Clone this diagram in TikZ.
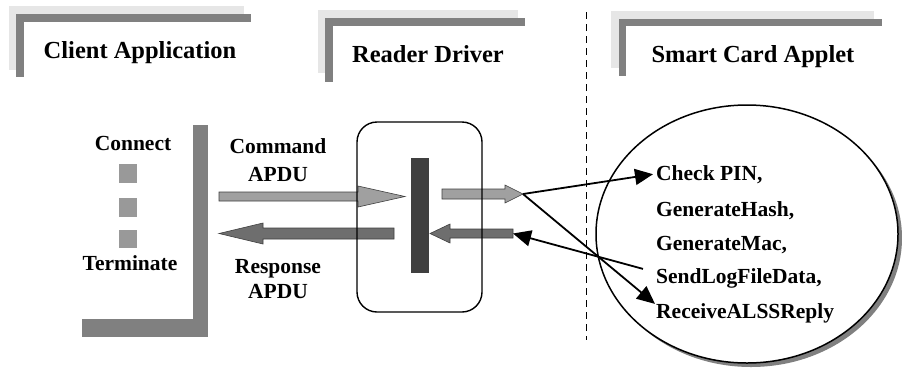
\documentclass[tikz,border=0pt]{standalone}
\usepackage{fontspec}
\setmainfont{Liberation Serif}[BoldFont={Liberation Serif Bold}]
\usetikzlibrary{arrows.meta}
\definecolor{hdrlight}{HTML}{E6E6E6}
\definecolor{hdrdark}{HTML}{808080}
\definecolor{cmdfill}{HTML}{A0A0A0}
\definecolor{rspfill}{HTML}{6E6E6E}
\definecolor{barfill}{HTML}{404040}
\definecolor{stepfill}{HTML}{999999}
\begin{document}
\begin{tikzpicture}[x=1pt,y=-1pt,
  hdrtext/.style={font=\bfseries\fontsize{24.5}{28}\selectfont, inner sep=0pt, anchor=base},
  lbltext/.style={font=\bfseries\fontsize{21.5}{24}\selectfont, inner sep=0pt, anchor=base},
  optext/.style={font=\bfseries\fontsize{21.5}{24}\selectfont, inner sep=0pt, anchor=base west},
  blockarrow/.style={draw=barfill, line width=0.6pt},
  callarrow/.style={line width=1.8pt, -{Triangle[length=18pt,width=16pt]}}]
\path[use as bounding box, fill=white] (0,0) rectangle (902,376);

% ---- column headers: light backing plate, dark L-shaped frame, title ----
\fill[hdrlight] (9,6) rectangle (244,70);
\fill[white] (16,14) rectangle (251,77);
\fill[hdrdark] (16,14) rectangle (251,22);
\fill[hdrdark] (16,14) rectangle (24,77);
\node[hdrtext] (hclient) at (140,58) {Client Application};

\fill[hdrlight] (318,10) rectangle (518,73);
\fill[white] (325,18) rectangle (525,82);
\fill[hdrdark] (325,18) rectangle (525,26);
\fill[hdrdark] (325,18) rectangle (333,82);
\node[hdrtext] (hreader) at (428,62) {Reader Driver};

\fill[hdrlight] (611,11) rectangle (874,68);
\fill[white] (619,19) rectangle (882,76);
\fill[hdrdark] (619,19) rectangle (882,26);
\fill[hdrdark] (619,19) rectangle (626,76);
\node[hdrtext] (happlet) at (753,62) {Smart Card Applet};

% ---- boundary between host side and card side ----
\coordinate (divtop) at (586,12);
\coordinate (divbot) at (586,340);
\draw[dash pattern=on 7pt off 5pt, line width=1pt] (divtop) -- (divbot);

% ---- client application ----
\fill[hdrdark] (193,125) rectangle (208,337);
\fill[hdrdark] (82,319) rectangle (208,337);
\node[lbltext] (connect) at (133,150) {Connect};
\fill[stepfill] (119,164) rectangle (137,183);
\fill[stepfill] (119,198) rectangle (137,217);
\fill[stepfill] (119,230) rectangle (137,248);
\node[lbltext] (terminate) at (130,270) {Terminate};

\node[lbltext] (cmd1) at (278,153) {Command};
\node[lbltext] (cmd2) at (278,181) {APDU};
\node[lbltext] (rsp1) at (278,273) {Response};
\node[lbltext] (rsp2) at (278,298) {APDU};

% command APDU going into the reader
\fill[cmdfill, blockarrow] (219,192) -- (358,192) -- (358,186) -- (405,196.5)
  -- (358,207) -- (358,201) -- (219,201) -- cycle;
% response APDU coming back out
\fill[rspfill, blockarrow] (394,228) -- (263,228) -- (263,223) -- (219,233.5)
  -- (263,244) -- (263,239) -- (394,239) -- cycle;

% ---- reader driver ----
\fill[barfill] (411,158) rectangle (429,273);
\fill[cmdfill, blockarrow] (442,189) -- (505,189) -- (505,185) -- (523,194)
  -- (505,203) -- (505,199) -- (442,199) -- cycle;
\coordinate (fwdtip) at (523,194);
\fill[rspfill, blockarrow] (513,229) -- (450,229) -- (450,224) -- (430,233.5)
  -- (450,243) -- (450,238) -- (513,238) -- cycle;
\coordinate (backtail) at (513,233.5);
\draw[line width=1.4pt, rounded corners=20pt] (357,122) rectangle (482,312);

% ---- smart card applet ----
\fill[hdrdark] (751,238) ellipse [x radius=151, y radius=129];
\draw[fill=white, line width=1.5pt] (747,234) ellipse [x radius=151, y radius=129];
\node[optext] (checkpin) at (656,180) {Check PIN,};
\node[optext] (genhash) at (656,216) {GenerateHash,};
\node[optext] (genmac) at (656,250) {GenerateMac,};
\node[optext] (sendlog) at (656,283) {SendLogFileData,};
\node[optext] (recvreply) at (656,318) {ReceiveALSSReply};

% dispatch of commands to applet methods and the reply path
\draw[callarrow] (fwdtip) -- ([xshift=-3pt]checkpin.west);
\draw[callarrow] (fwdtip) -- ([xshift=-1pt,yshift=-1pt]recvreply.north west);
\draw[callarrow] ([xshift=-13pt,yshift=-1pt]sendlog.north west) -- (backtail);
\end{tikzpicture}
\end{document}
